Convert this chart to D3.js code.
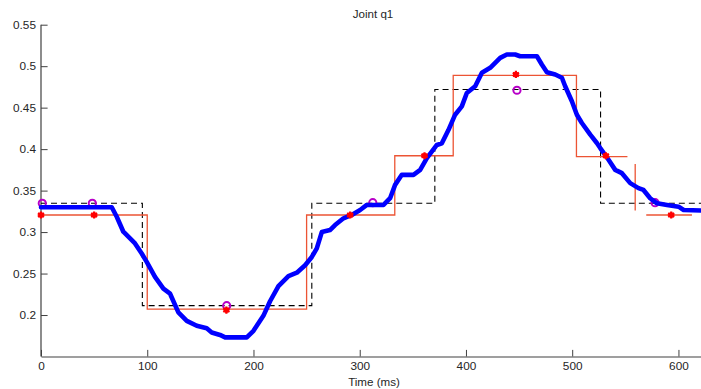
<!DOCTYPE html>
<html>
<head>
<meta charset="utf-8">
<script src="https://cdn.jsdelivr.net/npm/d3@7"></script>
<style>
  body { margin: 0; background: #fff; }
  svg { display: block; font-family: "Liberation Sans", Arial, sans-serif; }
</style>
</head>
<body>
<svg id="chart"></svg>
<script>
// axis ticks
const timeTicks = [0, 100, 200, 300, 400, 500, 600];
const angleTicks = [0.2, 0.25, 0.3, 0.35, 0.4, 0.45, 0.5, 0.55];

// desired trajectory (black dashed step), step-after knots
const refT = [0, 95.4, 254.9, 370.7, 526.7, 625];
const refQ = [0.3347, 0.2113, 0.3347, 0.4718, 0.3347, 0.3347];

// commanded steps (red thin line)
const cmdT = [0, 100, 250, 333, 388, 504, 552];
const cmdQ = [0.3206, 0.207, 0.3206, 0.392, 0.489, 0.391, 0.391];
// loose red pieces near the end
const cmdTailT = [[559.3, 559.3], [569.7, 612.7]];
const cmdTailQ = [[0.382, 0.326], [0.3206, 0.3206]];

// red stars
const starT = [0, 50, 174.5, 291, 361, 447, 531.7, 593.2];
const starQ = [0.3206, 0.3206, 0.206, 0.3206, 0.392, 0.49, 0.392, 0.3206];

// magenta circles
const circT = [1.2, 48.3, 174.8, 312.3, 448, 578];
const circQ = [0.3347, 0.3347, 0.2113, 0.3355, 0.471, 0.3355];

// measured joint angle (thick blue)
const measT = [0, 66.6, 71.3, 77.5, 88.5, 94.8, 99.5, 107.3, 115.2, 121.5, 129.3, 137.2,
  146.6, 156, 160.7, 168.5, 173.3, 193.7, 200, 209.3, 215.6, 223.5, 232.9, 240.8, 248.6,
  254.9, 259.6, 264.3, 272, 276.8, 284.7, 292.5, 300.4, 306.7, 322.4, 328.6, 333.3, 339.6,
  350.6, 356.9, 363.2, 372.6, 377.3, 383.5, 389.8, 396.1, 400.8, 408.7, 415, 422.8, 432.2,
  438.5, 446.3, 451, 466.8, 471.4, 476.2, 484, 490.3, 493.4, 499.7, 504.4, 509.1, 517,
  523.2, 526.4, 534.2, 540.5, 546.8, 554.6, 562.4, 567.1, 573.4, 579.8, 589.2, 600.1,
  604.9, 625];
const measQ = [0.3299, 0.3299, 0.3185, 0.3004, 0.2863, 0.2742, 0.264, 0.2459, 0.2318, 0.2257,
  0.2032, 0.193, 0.187, 0.184, 0.179, 0.176, 0.173, 0.173, 0.181, 0.199, 0.2166, 0.2348,
  0.247, 0.251, 0.26, 0.27, 0.2803, 0.3, 0.3024, 0.3085, 0.3166, 0.3206, 0.3266, 0.3327,
  0.3327, 0.3408, 0.3569, 0.369, 0.369, 0.375, 0.3892, 0.405, 0.407, 0.423, 0.4415, 0.4516,
  0.4677, 0.4758, 0.492, 0.498, 0.51, 0.5141, 0.5141, 0.512, 0.512, 0.502, 0.4927, 0.49,
  0.486, 0.4758, 0.4577, 0.4415, 0.4315, 0.4174, 0.4074, 0.4013, 0.3872, 0.375, 0.371,
  0.359, 0.353, 0.3508, 0.3408, 0.3347, 0.3327, 0.3306, 0.3266, 0.3258];

const W = 701, H = 389;
const svg = d3.select("#chart").attr("width", W).attr("height", H);

const x = d3.scaleLinear().domain([0, 625]).range([41, 705]);
const y = d3.scaleLinear().domain([0.15, 0.55]).range([356.5, 24.7]);

const textColor = "#262626";
const axisColor = "#404040";

// x axis
const xAxis = svg.append("g")
  .attr("transform", `translate(0,${y(0.15)})`)
  .call(d3.axisBottom(x).tickValues(timeTicks).tickSizeInner(-6.6).tickSizeOuter(0).tickPadding(5)
    .tickFormat(d3.format("d")));
// y axis
const yAxis = svg.append("g")
  .attr("transform", `translate(${x(0)},0)`)
  .call(d3.axisLeft(y).tickValues(angleTicks).tickSizeInner(-6.6).tickSizeOuter(0).tickPadding(5)
    .tickFormat(d => String(+d.toFixed(2))));

[xAxis, yAxis].forEach(g => {
  g.select(".domain").attr("stroke", axisColor).attr("stroke-width", 1.2);
  g.selectAll(".tick line").attr("stroke", axisColor);
  g.selectAll(".tick text").attr("fill", textColor).style("font-size", "11.8px")
    .style("font-family", "'Liberation Sans', Arial, sans-serif");
});
yAxis.select(".domain").attr("d", `M0,${y(0.55)}V${y(0.15)}`);

svg.append("text")
  .attr("x", 373).attr("y", 18)
  .attr("text-anchor", "middle")
  .attr("fill", textColor)
  .style("font-size", "11.6px")
  .text("Joint q1");

svg.append("text")
  .attr("x", 374).attr("y", 386)
  .attr("text-anchor", "middle")
  .attr("fill", textColor)
  .style("font-size", "11.6px")
  .text("Time (ms)");

const plot = svg.append("g");

// black dashed reference
const refLine = d3.line().x(d => x(d[0])).y(d => y(d[1])).curve(d3.curveStepAfter);
plot.append("path")
  .datum(refT.map((t, i) => [t, refQ[i]]))
  .attr("d", refLine)
  .attr("fill", "none")
  .attr("stroke", "#000")
  .attr("stroke-width", 1.1)
  .attr("stroke-dasharray", "6,4");

// red command steps
plot.append("path")
  .datum(cmdT.map((t, i) => [t, cmdQ[i]]))
  .attr("d", refLine)
  .attr("fill", "none")
  .attr("stroke", "#ec5434")
  .attr("stroke-width", 1.3);

const segLine = d3.line().x(d => x(d[0])).y(d => y(d[1]));
cmdTailT.forEach((ts, k) => {
  plot.append("path")
    .datum(ts.map((t, i) => [t, cmdTailQ[k][i]]))
    .attr("d", segLine)
    .attr("fill", "none")
    .attr("stroke", "#ec5434")
    .attr("stroke-width", 1.3);
});

// magenta circles
plot.selectAll(".circ")
  .data(circT.map((t, i) => [t, circQ[i]]))
  .enter().append("circle")
  .attr("class", "circ")
  .attr("cx", d => x(d[0]))
  .attr("cy", d => y(d[1]))
  .attr("r", 3.6)
  .attr("fill", "none")
  .attr("stroke", "#b800c8")
  .attr("stroke-width", 2);

// blue measured line
plot.append("path")
  .datum(measT.map((t, i) => [t, measQ[i]]))
  .attr("d", segLine)
  .attr("fill", "none")
  .attr("stroke", "#0000ff")
  .attr("stroke-width", 4.6)
  .attr("stroke-linejoin", "round")
  .attr("stroke-linecap", "round");

// red stars
const star = d3.symbol().type(d3.symbolAsterisk).size(36);
plot.selectAll(".star")
  .data(starT.map((t, i) => [t, starQ[i]]))
  .enter().append("path")
  .attr("class", "star")
  .attr("transform", d => `translate(${x(d[0])},${y(d[1])})`)
  .attr("d", star)
  .attr("fill", "#ff0000")
  .attr("stroke", "#ff0000")
  .attr("stroke-width", 2.2);
plot.selectAll(".stardot")
  .data(starT.map((t, i) => [t, starQ[i]]))
  .enter().append("circle")
  .attr("cx", d => x(d[0]))
  .attr("cy", d => y(d[1]))
  .attr("r", 2.8)
  .attr("fill", "#ff0000");
</script>
</body>
</html>
